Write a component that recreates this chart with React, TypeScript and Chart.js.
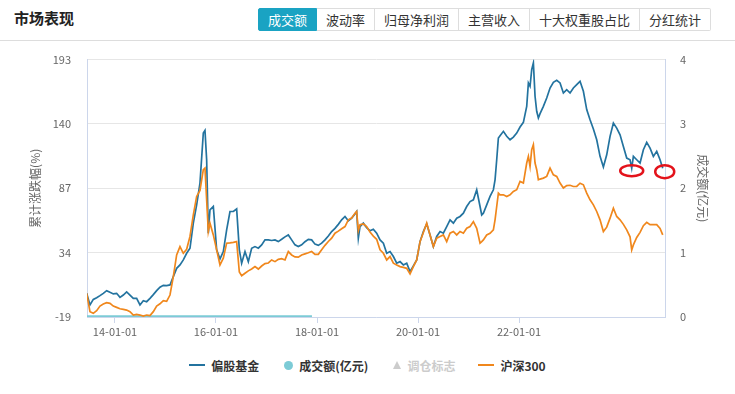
import React, { useEffect, useRef } from 'react';
import { Chart, registerables } from 'chart.js';

Chart.register(...registerables);

const tabs = ['成交额', '波动率', '归母净利润', '主营收入', '十大权重股占比', '分红统计'];
const leftTicks = [-19, 34, 87, 140, 193];
const rightTicks = [0, 1, 2, 3, 4];
const xTickYears = [2014, 2016, 2018, 2020, 2022];

// decimal years
const dates = [
  2013.439, 2013.505, 2013.571, 2013.637, 2013.703, 2013.769, 2013.835, 2013.901, 2013.967, 2014.033,
  2014.099, 2014.165, 2014.231, 2014.297, 2014.363, 2014.429, 2014.495, 2014.561, 2014.627, 2014.693,
  2014.759, 2014.825, 2014.891, 2014.957, 2015.023, 2015.089, 2015.155, 2015.221, 2015.287, 2015.353,
  2015.419, 2015.485, 2015.551, 2015.617, 2015.683, 2015.749, 2015.782, 2015.815, 2015.848, 2015.881,
  2015.947,
  2016.013, 2016.079, 2016.145, 2016.211, 2016.277, 2016.343, 2016.409, 2016.462, 2016.508, 2016.574,
  2016.640, 2016.706, 2016.772, 2016.838, 2016.904, 2016.970, 2017.036, 2017.102, 2017.168, 2017.234,
  2017.300, 2017.366, 2017.432, 2017.498, 2017.564, 2017.630, 2017.696, 2017.762, 2017.828, 2017.894,
  2017.960, 2018.026, 2018.092, 2018.158, 2018.224, 2018.290, 2018.356, 2018.422, 2018.488, 2018.554,
  2018.620, 2018.686, 2018.752, 2018.785, 2018.818, 2018.851, 2018.917, 2018.983, 2019.049, 2019.115,
  2019.181,
  2019.248, 2019.314, 2019.380, 2019.446, 2019.512, 2019.578, 2019.644, 2019.710, 2019.776, 2019.842,
  2019.908, 2019.974, 2020.040, 2020.106, 2020.172, 2020.238, 2020.304, 2020.370, 2020.436, 2020.502,
  2020.568, 2020.634, 2020.700, 2020.766, 2020.832, 2020.898, 2020.964, 2021.030, 2021.096, 2021.162,
  2021.228, 2021.261, 2021.294, 2021.360, 2021.426, 2021.492, 2021.525, 2021.558, 2021.591, 2021.624,
  2021.690, 2021.756, 2021.822, 2021.888, 2021.954, 2022.020, 2022.086, 2022.152, 2022.185, 2022.218,
  2022.251, 2022.284, 2022.317, 2022.350, 2022.383, 2022.416, 2022.482, 2022.548, 2022.614, 2022.680,
  2022.746, 2022.812, 2022.878, 2022.944, 2023.010, 2023.076, 2023.142, 2023.208, 2023.274, 2023.340,
  2023.406, 2023.472, 2023.538, 2023.604, 2023.670, 2023.736, 2023.802, 2023.868, 2023.934, 2024.000,
  2024.066, 2024.132, 2024.198, 2024.231, 2024.264, 2024.330, 2024.396, 2024.462, 2024.528, 2024.594,
  2024.660, 2024.726, 2024.792, 2024.845,
];

// 偏股基金 cumulative change (%)
const fundValues = [
  0.5, -9.1, -4.5, -3.1, -1.4, 0.5, 2.7, 1.3, 0, 0.5,
  -2.8, -0.9, 1.6, -0.9, -3.6, -3.6, -9.1, -5.6, -6.4, -3.6,
  -0.6, 2.7, 5.5, 7.1, 6.9, 7.4, 14.3, 21.1, 23.9, 28,
  33.5, 37.6, 58.3, 73.4, 91.3, 132.5, 134.7, 110.5, 50, 69.3,
  72,
  36.3, 28.8, 34.9, 52.8, 67.9, 68, 70, 36.3, 25.3, 34.9,
  26.6, 37.6, 39, 37.7, 40.4, 44.5, 44.5, 44, 44.5, 43.1,
  45, 47, 48.6, 44.5, 40.4, 39, 40.4, 43, 45, 44.5,
  41, 40, 41.8, 44.5, 47.7, 51.4, 54, 57.3, 61, 63.8,
  60.3, 62.4, 65.9, 67.9, 45.9, 55.5, 58.3, 54.6, 52, 53.3,
  50,
  44.5, 41.8, 33.5, 34.9, 30.8, 25.3, 26.6, 23.9, 25.3, 18.4,
  23.1, 28, 43.1, 51.4, 57.7, 48.6, 39, 47.3, 51.4, 50,
  55.5, 61, 58.3, 62.4, 63.8, 66.5, 72, 76.1, 77.5, 85.8,
  72, 65.1, 66.5, 73.4, 80.3, 85.8, 94, 110.5, 128.4, 130.3,
  133.9, 129.8, 127, 129.2, 132.5, 137.5, 141.3, 154.5, 173.8, 171,
  184.8, 190.3, 162.8, 150.4, 144.9, 148.5, 154.5, 161.4, 169.6, 174.3,
  176, 173.8, 165.5, 168.3, 165.5, 169.6, 172.4, 175.1, 166.9, 151.8,
  143.5, 135.8, 127, 113.3, 104.5, 114.6, 129.8, 140.8, 136.6, 131.1,
  121.5, 111.9, 110.5, 103.6, 113.3, 110.5, 107.8, 118.8, 124.8, 120.1,
  113.3, 117.4, 110.5, 103.6,
];

// 沪深300 cumulative change (%)
const hs300Values = [
  0.5, -14.6, -16, -13.8, -10, -8.3, -7.2, -7.8, -10, -11.1,
  -12.2, -12.7, -13.3, -14.6, -17.4, -16.8, -17.4, -18.2, -17.4, -17.9,
  -14.6, -10, -8.1, -5.6, -6.1, -0.9, 14.3, 32.1, 39, 33.5,
  36.8, 47.3, 65.1, 80.3, 85.2, 102.3, 103.6, 77.5, 51.4, 58.3,
  48.6,
  36.3, 23.9, 29.4, 41.8, 42, 42.5, 43.1, 18, 15, 17,
  19, 20.5, 22.5, 20.5, 23, 25, 25.5, 28, 26.6, 28.5,
  29, 28, 34.9, 32.1, 30.5, 30.3, 32.1, 33, 33.9, 34.9,
  32.5, 32.6, 36.3, 40, 43.2, 45.9, 50, 51.7, 53.7, 55.5,
  61, 62.5, 66.5, 67.9, 52, 57, 57.6, 55.5, 50.9, 47.6,
  45,
  36.3, 33.5, 28, 30.8, 25.3, 23.9, 22.5, 21.9, 21.1, 16.5,
  22.5, 28, 43.1, 50.6, 58.3, 48.6, 39, 45.9, 47.3, 48.6,
  43.1, 50, 51.4, 48.6, 51.4, 50, 54.1, 55.5, 59.6, 54.1,
  41.8, 43.1, 44.5, 48.6, 50, 52.8, 61, 72, 83, 81.6,
  81.6, 80.3, 81.6, 84.4, 85.8, 92.6, 91.3, 107.8, 113.3, 105,
  118.8, 122.9, 107.8, 102.3, 94, 94.6, 95.4, 96.8, 103.6, 98.1,
  96.8, 91.3, 87.2, 89.2, 89.5, 88.5, 88.5, 91.2, 89.9, 83,
  77.5, 73.4, 67.9, 61, 51.4, 55, 62.4, 70.6, 63.8, 61,
  57.3, 52.8, 47, 36.3, 40.4, 46.5, 50.7, 56.2, 59, 57,
  57, 57, 54, 48.6,
];

// 成交额(亿元)
const turnoverDates = [2013.439, 2014.5, 2015.5, 2016.5, 2017.9];
const turnoverValues = [0.01, 0.01, 0.01, 0.01, 0.01];

// hand-drawn red circle annotations at these dates on 偏股基金
const markDates = [2024.231, 2024.845];

const BLUE = '#23739f';
const ORANGE = '#f0871c';
const TEAL = '#7ccbd6';
const AXIS = '#ccd6eb';
const FONT = '"Microsoft YaHei","Noto Sans CJK SC","Noto Sans",sans-serif';

const markerPlugin = {
  id: 'redMarks',
  afterDatasetsDraw(chart: any) {
    const meta = chart.getDatasetMeta(0);
    const ctx = chart.ctx;
    const shapes = [
      { dx: 0, dy: 2.5, rx: 11.5, ry: 5.5 },
      { dx: 2, dy: 3.5, rx: 9.5, ry: 6.5 },
    ];
    markDates.forEach((d, k) => {
      const i = dates.indexOf(d);
      const p = meta.data[i];
      if (!p) return;
      const s = shapes[k];
      ctx.save();
      ctx.beginPath();
      ctx.ellipse(p.x + s.dx, p.y + s.dy, s.rx, s.ry, 0, 0, Math.PI * 2);
      ctx.strokeStyle = '#e3131b';
      ctx.lineWidth = 2.5;
      ctx.stroke();
      ctx.restore();
    });
  },
};

export default function App() {
  const ref = useRef<HTMLCanvasElement | null>(null);

  useEffect(() => {
    document.body.style.margin = '0';
    const canvas = ref.current;
    if (!canvas) return;
    const chart = new Chart(canvas, {
      type: 'line',
      data: {
        datasets: [
          {
            label: '偏股基金',
            data: dates.map((d, i) => ({ x: d, y: fundValues[i] })),
            borderColor: BLUE,
            backgroundColor: BLUE,
            borderWidth: 1.7,
            pointRadius: 0,
            tension: 0,
            yAxisID: 'y',
            order: 2,
          },
          {
            label: '成交额(亿元)',
            data: turnoverDates.map((d, i) => ({ x: d, y: turnoverValues[i] })),
            borderColor: TEAL,
            backgroundColor: TEAL,
            borderWidth: 2,
            pointRadius: 0,
            yAxisID: 'y1',
            order: 3,
          },
          {
            label: '沪深300',
            data: dates.map((d, i) => ({ x: d, y: hs300Values[i] })),
            borderColor: ORANGE,
            backgroundColor: ORANGE,
            borderWidth: 1.7,
            pointRadius: 0,
            tension: 0,
            yAxisID: 'y',
            order: 1,
          },
        ],
      },
      options: {
        animation: false,
        responsive: true,
        maintainAspectRatio: false,
        layout: { padding: 0 },
        plugins: { legend: { display: false }, tooltip: { enabled: false } },
        scales: {
          x: {
            type: 'linear',
            min: 2013.446,
            max: 2024.89,
            afterBuildTicks: (s: any) => {
              s.ticks = xTickYears.map((v) => ({ value: v }));
            },
            afterFit: (s: any) => {
              s.height = 28;
            },
            ticks: {
              autoSkip: false,
              maxRotation: 0,
              padding: 2,
              color: '#666',
              font: { size: 11, family: FONT },
              callback: (v: any) => `${String(Number(v) % 100).padStart(2, '0')}-01-01`,
            },
            grid: { drawOnChartArea: false, drawTicks: true, tickLength: 6, color: AXIS },
            border: { color: AXIS },
          },
          y: {
            position: 'left',
            min: -19,
            max: 193,
            afterBuildTicks: (s: any) => {
              s.ticks = leftTicks.map((v) => ({ value: v }));
            },
            afterFit: (s: any) => {
              s.width = 87;
            },
            ticks: { padding: 16, color: '#666', font: { size: 11, family: FONT } },
            grid: { color: '#e6e6e6', drawTicks: false },
            border: { color: AXIS },
            title: {
              display: true,
              text: '累计涨跌幅(%)',
              color: '#666',
              font: { size: 12, family: FONT },
              padding: { top: 28, bottom: 0 },
            },
          },
          y1: {
            position: 'right',
            min: 0,
            max: 4,
            afterBuildTicks: (s: any) => {
              s.ticks = rightTicks.map((v) => ({ value: v }));
            },
            afterFit: (s: any) => {
              s.width = 70;
            },
            ticks: { padding: 15, color: '#666', font: { size: 11, family: FONT } },
            grid: { drawOnChartArea: false, drawTicks: false },
            border: { color: AXIS },
            title: {
              display: true,
              text: '成交额(亿元)',
              color: '#666',
              font: { size: 12, family: FONT },
              padding: { top: 25, bottom: 0 },
            },
          },
        },
      } as any,
      plugins: [markerPlugin],
    });
    return () => chart.destroy();
  }, []);

  const legendItem = (icon: React.ReactNode, text: string, color: string, gap: number) => (
    <div style={{ display: 'flex', alignItems: 'center', marginRight: gap }}>
      {icon}
      <span style={{ marginLeft: 6, color }}>{text}</span>
    </div>
  );

  return (
    <div
      style={{
        position: 'fixed',
        left: 0,
        top: 0,
        width: 735,
        height: 394,
        background: '#fff',
        fontFamily: FONT,
        overflow: 'hidden',
      }}
    >
      <div
        style={{
          position: 'absolute',
          left: 0,
          top: 0,
          width: 735,
          height: 40,
          borderBottom: '1px solid #ddd',
        }}
      >
        <div
          style={{
            position: 'absolute',
            left: 14,
            top: 8,
            fontSize: 15,
            fontWeight: 'bold',
            color: '#222',
            lineHeight: '20px',
          }}
        >
          市场表现
        </div>
        <div style={{ position: 'absolute', left: 258, top: 8, display: 'flex' }}>
          {tabs.map((t, i) => (
            <div
              key={t}
              style={{
                height: 21,
                lineHeight: '21px',
                padding: '0 9px',
                fontSize: 13,
                color: i === 0 ? '#fff' : '#333',
                background: i === 0 ? '#1aa3c3' : '#fff',
                border: `1px solid ${i === 0 ? '#1aa3c3' : '#ddd'}`,
                borderLeft: i === 0 ? '1px solid #1aa3c3' : 'none',
                borderRadius: i === 0 ? '2px 0 0 2px' : i === tabs.length - 1 ? '0 2px 2px 0' : 0,
                whiteSpace: 'nowrap',
              }}
            >
              {t}
            </div>
          ))}
        </div>
      </div>
      <div style={{ position: 'absolute', left: 0, top: 37, width: 735, height: 308 }}>
        <canvas ref={ref} />
      </div>
      <div
        style={{
          position: 'absolute',
          left: 0,
          top: 355,
          width: 735,
          height: 20,
          display: 'flex',
          justifyContent: 'center',
          alignItems: 'center',
          fontSize: 12,
          fontWeight: 'bold',
        }}
      >
        {legendItem(
          <span style={{ display: 'inline-block', width: 16, height: 2, background: BLUE }} />,
          '偏股基金',
          '#333',
          25
        )}
        {legendItem(
          <span
            style={{ display: 'inline-block', width: 9, height: 9, borderRadius: '50%', background: TEAL }}
          />,
          '成交额(亿元)',
          '#333',
          25
        )}
        {legendItem(
          <span
            style={{
              display: 'inline-block',
              width: 0,
              height: 0,
              borderLeft: '4.5px solid transparent',
              borderRight: '4.5px solid transparent',
              borderBottom: '8px solid #ccc',
            }}
          />,
          '调仓标志',
          '#ccc',
          23
        )}
        {legendItem(
          <span style={{ display: 'inline-block', width: 16, height: 2, background: ORANGE }} />,
          '沪深300',
          '#333',
          0
        )}
      </div>
    </div>
  );
}
